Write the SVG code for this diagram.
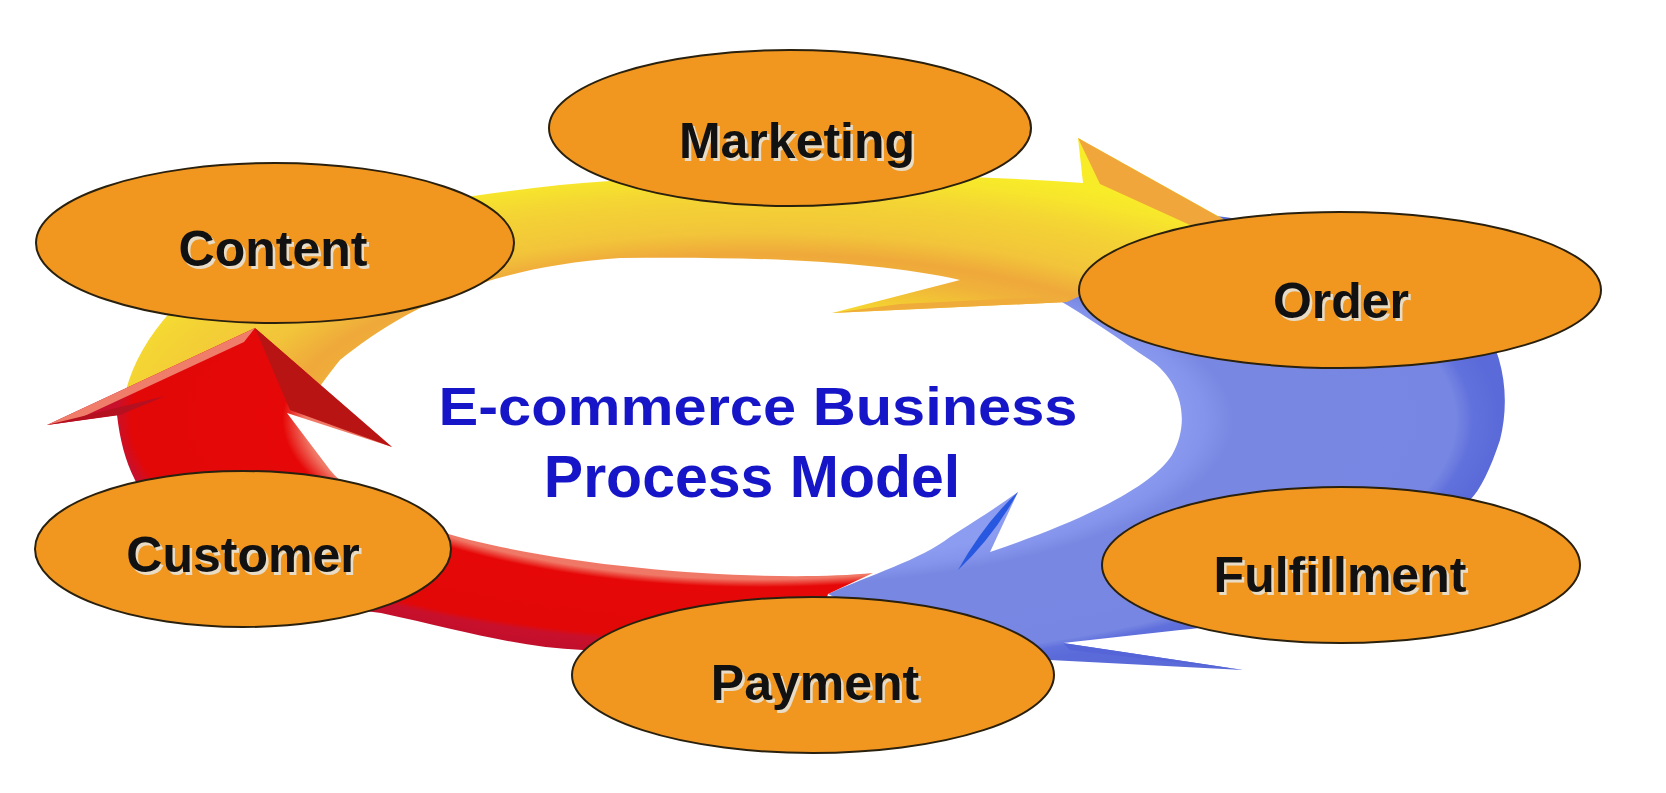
<svg xmlns="http://www.w3.org/2000/svg" width="1666" height="793" viewBox="0 0 1666 793">
<style>
.node ellipse{fill:#f1971f;stroke:#2a200e;stroke-width:2}
.lbl{font-family:"Liberation Sans",Arial,sans-serif;font-weight:bold;font-size:50px;text-anchor:middle;fill:#111}
.sh{fill:#e8dcc6}
.title{font-family:"Liberation Sans",Arial,sans-serif;font-weight:bold;text-anchor:middle;fill:#1616c8}
</style>
<defs>
<radialGradient id="gY" gradientUnits="userSpaceOnUse" cx="760" cy="420" r="740" gradientTransform="translate(760 420) scale(1 0.35) translate(-760 -420)">
<stop offset="0.40" stop-color="#f6e22c"/>
<stop offset="0.58" stop-color="#f0b23a"/>
<stop offset="0.64" stop-color="#efa83a"/>
<stop offset="0.72" stop-color="#f2c43a"/>
<stop offset="0.86" stop-color="#f4d434"/>
<stop offset="0.95" stop-color="#f7e62c"/>
<stop offset="1" stop-color="#f8ec28"/>
</radialGradient>
<radialGradient id="gR" gradientUnits="userSpaceOnUse" cx="760" cy="420" r="740" gradientTransform="translate(760 420) scale(1 0.35) translate(-760 -420)">
<stop offset="0" stop-color="#f07866"/>
<stop offset="0.615" stop-color="#f07866"/>
<stop offset="0.645" stop-color="#e60808"/>
<stop offset="0.85" stop-color="#e20808"/>
<stop offset="0.87" stop-color="#c8102c"/>
<stop offset="1" stop-color="#b80c2a"/>
</radialGradient>
<radialGradient id="gB" gradientUnits="userSpaceOnUse" cx="760" cy="420" r="740" gradientTransform="translate(760 420) scale(1 0.35) translate(-760 -420)">
<stop offset="0.55" stop-color="#8c9cf0"/>
<stop offset="0.60" stop-color="#8494ec"/>
<stop offset="0.64" stop-color="#7888e2"/>
<stop offset="0.94" stop-color="#7686e2"/>
<stop offset="0.965" stop-color="#6070dc"/>
<stop offset="1" stop-color="#5a6ad8"/>
</radialGradient>
</defs>
<rect width="1666" height="793" fill="#ffffff"/>

<g id="connectors">
  <g id="arrow-blue">
    <path fill="url(#gB)" d="M1150,212 C1260,212 1420,250 1480,320 C1505,355 1510,400 1500,440 C1490,470 1480,490 1470,500 C1400,590 1280,620 1180,630 L1063,643 L1243,670 L1050,660 C980,650 900,630 828,594 C870,575 920,560 950,537 C980,518 1000,505 1018,492 L990,552 C1070,525 1150,490 1172,455 C1192,420 1180,380 1150,360 C1120,340 1090,318 1055,298 Z"/>
    <path fill="#5565d8" d="M1063,643 L1243,670 L1070,650 Z"/>
    <path fill="#2858e0" d="M1018,492 Q985,522 958,570 Q994,536 1018,492 Z"/>
  </g>
  <g id="arrow-yellow">
    <path fill="url(#gY)" d="M122,412 C128,355 170,300 230,262 C300,225 420,200 560,185 C700,172 900,170 1083,183 L1078,138 L1232,224 L1067,302 L832,313 L960,280 C880,262 760,256 620,258 C470,268 390,320 340,360 C320,385 310,400 305,412 Z"/>
    <path fill="#f0a63a" d="M1078,138 L1230,223 L1190,225 L1100,184 Z"/>
    <path fill="#efac3a" d="M832,313 L1067,302 L1067,296 L900,304 Z"/>
  </g>
  <g id="arrow-red">
    <path fill="url(#gR)" d="M873,573 C780,582 600,572 470,540 C400,522 350,495 330,470 L287,413 L392,447 L255,328 L47,425 L117,415 C120,440 125,460 135,480 C170,560 260,600 381,613 C460,630 520,648 583,650 C680,655 760,640 815,640 L828,594 Z"/>
    <path fill="#ef7d6a" d="M255,328 L47,425 L78,419 L244,342 Z"/>
    <path fill="#b81414" d="M255,328 L392,447 L290,410 Z"/>
    <path fill="#b51020" d="M47,425 L165,396 L120,415 Z"/>
  </g>
</g>

<g id="node-marketing" class="node">
  <ellipse cx="790" cy="128" rx="241" ry="78"/>
  <text class="lbl sh" x="799.5" y="160.5">Marketing</text>
  <text class="lbl" x="797" y="158">Marketing</text>
</g>
<g id="node-content" class="node">
  <ellipse cx="275" cy="243" rx="239" ry="80"/>
  <text class="lbl sh" x="275.5" y="268.5">Content</text>
  <text class="lbl" x="273" y="266">Content</text>
</g>
<g id="node-order" class="node">
  <ellipse cx="1340" cy="290" rx="261" ry="78"/>
  <text class="lbl sh" x="1343.5" y="320.5">Order</text>
  <text class="lbl" x="1341" y="318">Order</text>
</g>
<g id="node-customer" class="node">
  <ellipse cx="243" cy="549" rx="208" ry="78"/>
  <text class="lbl sh" x="245.5" y="574.5">Customer</text>
  <text class="lbl" x="243" y="572">Customer</text>
</g>
<g id="node-fulfillment" class="node">
  <ellipse cx="1341" cy="565" rx="239" ry="78"/>
  <text class="lbl sh" x="1342.5" y="594.5">Fulfillment</text>
  <text class="lbl" x="1340" y="592">Fulfillment</text>
</g>
<g id="node-payment" class="node">
  <ellipse cx="813" cy="675" rx="241" ry="78"/>
  <text class="lbl sh" x="817.5" y="702.5">Payment</text>
  <text class="lbl" x="815" y="700">Payment</text>
</g>

<g id="title">
  <text class="title" x="758" y="425" font-size="53" textLength="639" lengthAdjust="spacingAndGlyphs">E-commerce Business</text>
  <text class="title" x="752" y="497" font-size="59">Process Model</text>
</g>
</svg>
